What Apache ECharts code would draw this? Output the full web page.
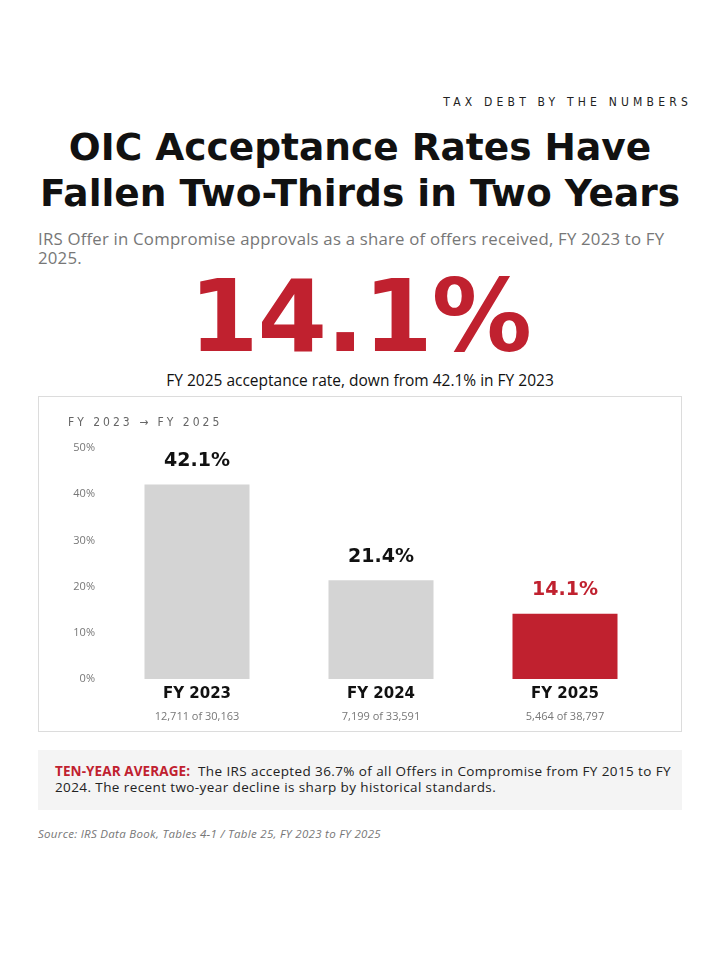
<!DOCTYPE html>
<html>
<head>
<meta charset="utf-8">
<script src="https://cdn.jsdelivr.net/npm/echarts@6/dist/echarts.min.js"></script>
<style>
  html, body { margin: 0; padding: 0; background: #fff; }
  #page { position: relative; width: 720px; height: 960px; overflow: hidden; font-family: "Open Sans", sans-serif; }
  .kicker { position: absolute; right: 28px; top: 95px; font-family: "Liberation Sans Narrow", "DejaVu Sans Condensed", sans-serif; font-size: 12px; letter-spacing: 4.2px; color: #222; }
  .title { position: absolute; left: 0; width: 720px; top: 124px; text-align: center; font-family: "DejaVu Sans", sans-serif; font-weight: 900; font-size: 37.5px; line-height: 46px; color: #111; white-space: nowrap; }
  .sub { position: absolute; left: 38px; width: 670px; top: 229px; font-size: 16.8px; letter-spacing: 0.2px; line-height: 19px; color: #777; white-space: nowrap; }
  .big { position: absolute; left: 0; width: 720px; top: 262px; text-align: center; font-family: "DejaVu Sans", sans-serif; font-weight: 900; font-size: 100px; line-height: 110px; color: #C0212F; letter-spacing: -1px; }
  .cap { position: absolute; left: 0; width: 720px; top: 369px; text-align: center; font-size: 15.5px; color: #111; }
  #box { position: absolute; left: 38px; top: 396px; width: 642px; height: 334px; border: 1px solid #dcdcdc; }
  #chart { position: absolute; left: 0; top: 0; width: 642px; height: 334px; }
  .range { position: absolute; left: 29px; top: 18px; font-family: "Liberation Sans Narrow", "DejaVu Sans Condensed", sans-serif; font-size: 12px; letter-spacing: 3px; color: #666; z-index: 2; }
  .note { position: absolute; left: 38px; top: 750px; width: 610px; height: 38px; padding: 14px 17px 8px 17px; background: #f4f4f4; font-size: 13.5px; letter-spacing: 0.4px; line-height: 15.5px; color: #222; white-space: nowrap; }
  .note b { color: #C0212F; font-weight: 700; letter-spacing: 0.1px; }
  .src { position: absolute; left: 38px; top: 826px; font-size: 11.5px; letter-spacing: 0.3px; font-style: italic; color: #777; }
</style>
</head>
<body>
<div id="page">
  <div class="kicker">TAX DEBT BY THE NUMBERS</div>
  <div class="title">OIC Acceptance Rates Have<br>Fallen Two-Thirds in Two Years</div>
  <div class="sub">IRS Offer in Compromise approvals as a share of offers received, FY 2023 to FY<br>2025.</div>
  <div class="big">14.1%</div>
  <div class="cap">FY 2025 acceptance rate, down from 42.1% in FY 2023</div>
  <div id="box">
    <div class="range">FY 2023 &rarr; FY 2025</div>
    <div id="chart"></div>
  </div>
  <div class="note"><b>TEN-YEAR AVERAGE:</b>&nbsp; The IRS accepted 36.7% of all Offers in Compromise from FY 2015 to FY<br>2024. The recent two-year decline is sharp by historical standards.</div>
  <div class="src">Source: IRS Data Book, Tables 4-1 / Table 25, FY 2023 to FY 2025</div>
</div>
<script>
// 数据
var categories = ['FY 2023', 'FY 2024', 'FY 2025'];
var rates = [42.1, 21.4, 14.1];
var accepted = [12711, 7199, 5464];
var received = [30163, 33591, 38797];
var yTicks = [0, 10, 20, 30, 40, 50];

var RED = '#C0212F';
var GREY = '#d4d4d4';
var last = categories.length - 1;

function fmt(n){
	return n.toLocaleString('en-US');
}

var option = {
	animation: false,
	grid: { left: 66, right: 24, top: 51, bottom: 52, containLabel: false },
	xAxis: {
		type: 'category',
		data: categories,
		axisLine: { show: false },
		axisTick: { show: false },
		axisLabel: {
			margin: 3,
			formatter: function(v, i){
				return '{a|' + v + '}\n{b|' + fmt(accepted[i]) + ' of ' + fmt(received[i]) + '}';
			},
			rich: {
				a: { fontFamily: 'DejaVu Sans', fontWeight: 'bold', fontSize: 15, color: '#111', lineHeight: 24 },
				b: { fontFamily: 'Open Sans', fontSize: 11, color: '#777', lineHeight: 22 }
			}
		}
	},
	yAxis: {
		type: 'value',
		min: yTicks[0],
		max: yTicks[yTicks.length - 1],
		interval: 10,
		splitLine: { show: false },
		axisLine: { show: false },
		axisTick: { show: false },
		axisLabel: {
			margin: 10,
			formatter: '{value}%',
			fontFamily: 'Open Sans',
			fontSize: 11,
			color: '#777'
		}
	},
	series: [{
		type: 'bar',
		//最后一年用红色突出
		data: rates.map(function(v, i){
			return {
				value: v,
				itemStyle: { color: i === last ? RED : GREY },
				label: { color: i === last ? RED : '#111' }
			};
		}),
		barWidth: 105,
		label: {
			show: true,
			position: 'top',
			distance: 14,
			formatter: '{c}%',
			fontFamily: 'DejaVu Sans',
			fontWeight: 'bold',
			fontSize: 19
		}
	}]
};

var chart = echarts.init(document.getElementById('chart'));
chart.setOption(option);
</script>
</body>
</html>
